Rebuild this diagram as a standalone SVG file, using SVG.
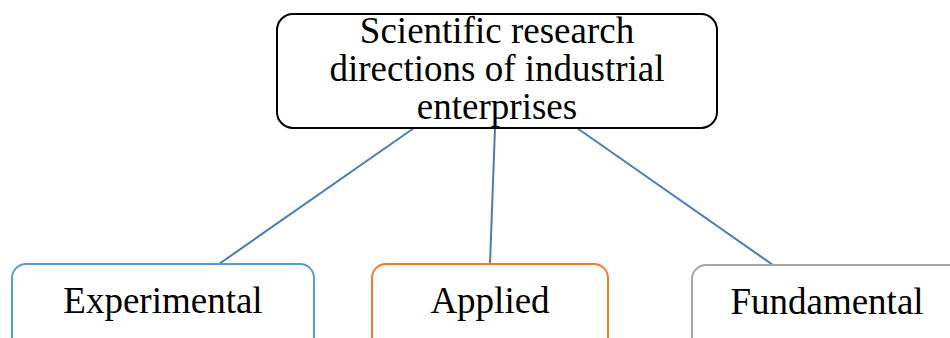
<svg xmlns="http://www.w3.org/2000/svg" width="950" height="338" viewBox="0 0 950 338">
  <style>
    .box { fill: #ffffff; stroke-width: 2; }
    .label { font-family: 'Liberation Serif', 'Times New Roman', serif; font-size: 37px; fill: #000000; text-anchor: middle; }
    .link { stroke: #4a7eb0; stroke-width: 2; fill: none; }
  </style>
  <rect width="950" height="338" fill="#ffffff"/>

  <g id="connectors">
    <line class="link" x1="414" y1="128" x2="219" y2="264"/>
    <line class="link" x1="495" y1="128" x2="490" y2="264"/>
    <line class="link" x1="577" y1="128" x2="773" y2="265"/>
  </g>

  <g id="root">
    <rect class="box" x="277" y="14" width="440" height="114" rx="16" ry="16" stroke="#000000"/>
    <text class="label" x="497" y="43">Scientific research</text>
    <text class="label" x="497" y="81">directions of industrial</text>
    <text class="label" x="497" y="119">enterprises</text>
  </g>

  <g id="experimental">
    <rect class="box" x="12" y="264" width="302" height="100" rx="14" ry="14" stroke="#5b9bd5"/>
    <text class="label" x="163" y="313">Experimental</text>
  </g>

  <g id="applied">
    <rect class="box" x="372" y="264" width="236" height="100" rx="14" ry="14" stroke="#ed7d31"/>
    <text class="label" x="490" y="313">Applied</text>
  </g>

  <g id="fundamental">
    <rect class="box" x="692" y="265" width="300" height="100" rx="14" ry="14" stroke="#a5a5a5"/>
    <text class="label" x="827" y="314">Fundamental</text>
  </g>
</svg>
